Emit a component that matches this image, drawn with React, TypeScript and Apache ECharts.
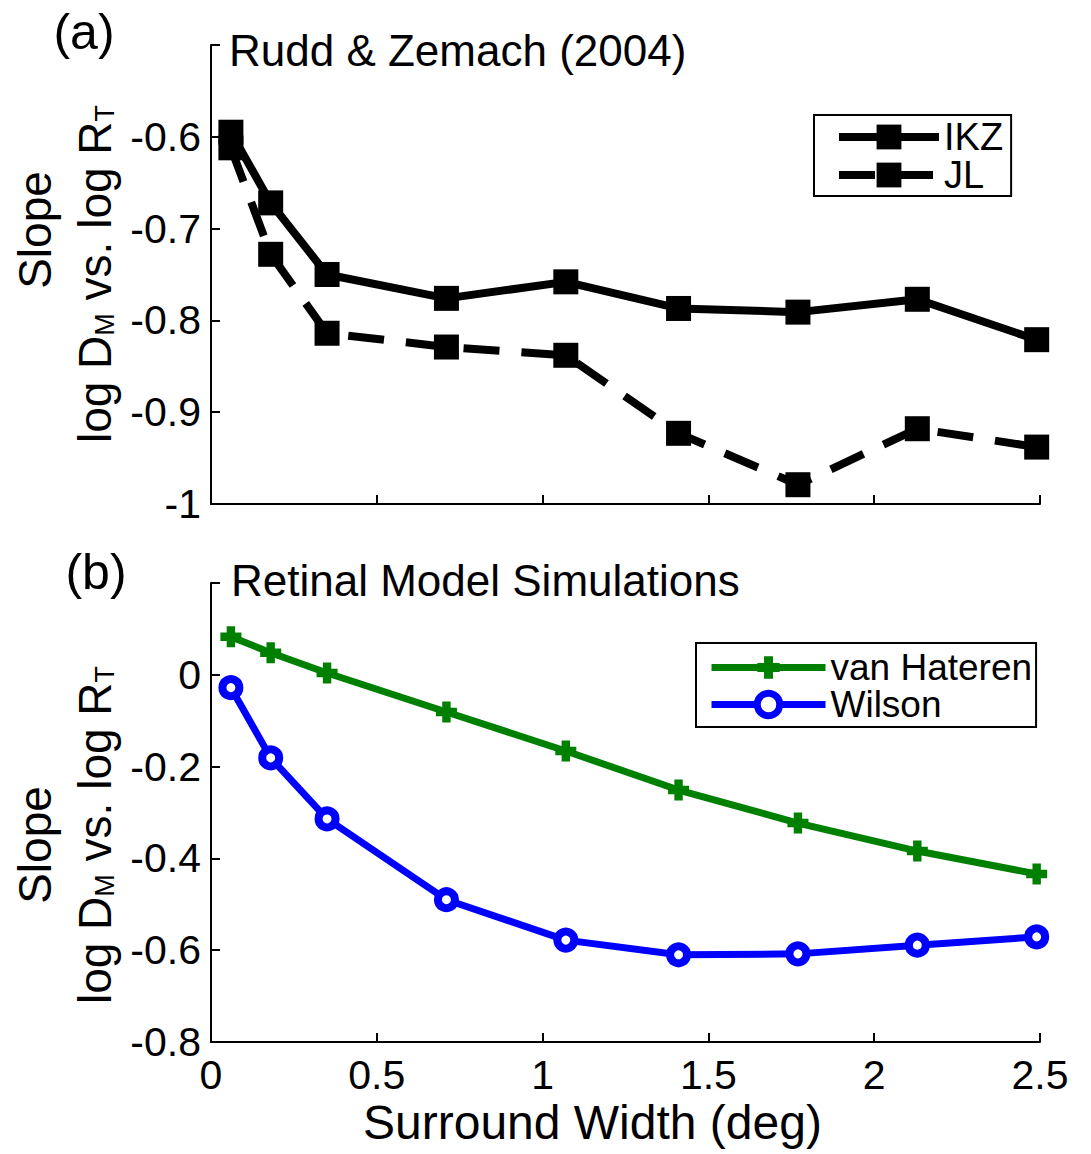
import React, { useEffect, useRef } from "react";
import * as echarts from "echarts";

const FONT = "'Liberation Sans', Arial, Helvetica, sans-serif";

const surroundWidth = [0.06, 0.18, 0.35, 0.71, 1.07, 1.41, 1.77, 2.13, 2.49];
const ikz = [-0.595, -0.672, -0.75, -0.776, -0.758, -0.787, -0.791, -0.777, -0.821];
const jl = [-0.612, -0.728, -0.814, -0.829, -0.838, -0.923, -0.979, -0.918, -0.938];
const vanHateren = [0.083, 0.048, 0.004, -0.081, -0.166, -0.251, -0.323, -0.384, -0.434];
const wilson = [-0.028, -0.181, -0.314, -0.49, -0.578, -0.61, -0.608, -0.589, -0.571];

const seriesNames = ["IKZ", "JL", "van Hateren", "Wilson"];
const panelTitles = ["Rudd & Zemach (2004)", "Retinal Model Simulations"];
const panelTags = ["(a)", "(b)"];
const xLabel = "Surround Width (deg)";

const pairs = (ys: number[]) => surroundWidth.map((x, i) => [x, ys[i]]);

const PLUS = "path://M3,0H7V3H10V7H7V10H3V7H0V3H3Z";
const DASH = [36, 22];

export default function App() {
  const ref = useRef<HTMLDivElement>(null);
  useEffect(() => {
    document.body.style.margin = "0";
    const chart = echarts.init(ref.current!, null, { renderer: "svg" });
    const fmt = (max: number) => (v: number) =>
      Math.abs(v - max) < 1e-9 ? "" : String(Math.round(v * 10) / 10);
    const axisLine = { show: true, onZero: false, lineStyle: { color: "#000", width: 2 } };
    const axisTick = { show: true, inside: true, length: 9, lineStyle: { color: "#000", width: 2 } };
    const lbl = { color: "#000", fontSize: 41, fontFamily: FONT };
    const yLabelText = "{n|log D}{s|M}{n| vs. log R}{s|T}";
    const yRich = {
      n: { fontSize: 46, fontFamily: FONT, color: "#000", lineHeight: 64, verticalAlign: "bottom" },
      s: { fontSize: 27, fontFamily: FONT, color: "#000", lineHeight: 1, verticalAlign: "bottom" },
    };
    const txt = (text: string, x: number, y: number, size: number, align = "left") => ({
      type: "text",
      x,
      y,
      style: {
        text,
        fontSize: size,
        fontFamily: FONT,
        fill: "#000",
        align,
        verticalAlign: "middle",
        textAlign: align,
        textVerticalAlign: "middle",
      },
    });
    const rot = (style: any, x: number, y: number) => ({
      type: "text",
      x,
      y,
      rotation: Math.PI / 2,
      style: {
        ...style,
        fill: "#000",
        fontFamily: FONT,
        align: "center",
        verticalAlign: "middle",
        textAlign: "center",
        textVerticalAlign: "middle",
      },
    });

    chart.setOption({
      animation: false,
      backgroundColor: "#fff",
      grid: [
        { left: 211, top: 45, width: 829, height: 459 },
        { left: 211, top: 583, width: 829, height: 459 },
      ],
      xAxis: [0, 1].map((i) => ({
        type: "value",
        gridIndex: i,
        min: 0,
        max: 2.5,
        interval: 0.5,
        axisLine,
        axisTick,
        splitLine: { show: false },
        axisLabel: i === 0 ? { show: false } : { ...lbl, margin: 12, formatter: fmt(99) },
      })),
      yAxis: [
        {
          type: "value",
          gridIndex: 0,
          min: -1,
          max: -0.5,
          interval: 0.1,
          axisLine,
          axisTick,
          splitLine: { show: false },
          axisLabel: { ...lbl, margin: 10, formatter: fmt(-0.5) },
        },
        {
          type: "value",
          gridIndex: 1,
          min: -0.8,
          max: 0.2,
          interval: 0.2,
          axisLine,
          axisTick,
          splitLine: { show: false },
          axisLabel: { ...lbl, margin: 10, formatter: fmt(0.2) },
        },
      ],
      legend: [
        {
          data: [
            { name: seriesNames[0], lineStyle: { width: 8, color: "#000" } },
            { name: seriesNames[1], lineStyle: { width: 8, color: "#000", type: DASH } },
          ],
          orient: "vertical",
          left: 814,
          top: 115,
          padding: [3, 8, 2, 21],
          itemGap: 0,
          itemWidth: 100,
          itemHeight: 31,
          borderColor: "#000",
          borderWidth: 2,
          backgroundColor: "#fff",
          selectedMode: false,
          textStyle: { color: "#000", fontSize: 38, fontFamily: FONT, lineHeight: 36 },
        },
        {
          data: [
            { name: seriesNames[2], lineStyle: { width: 7, color: "#008000" } },
            {
              name: seriesNames[3],
              lineStyle: { width: 7, color: "#0000ff" },
              itemStyle: { color: "#fff", borderColor: "#0000ff", borderWidth: 7 },
            },
          ],
          orient: "vertical",
          left: 696,
          top: 643,
          padding: [6, 4, 4, 12],
          itemGap: 0,
          itemWidth: 114,
          itemHeight: 28,
          borderColor: "#000",
          borderWidth: 2,
          backgroundColor: "#fff",
          selectedMode: false,
          textStyle: { color: "#000", fontSize: 37, fontFamily: FONT, lineHeight: 37 },
        },
      ],
      series: [
        {
          name: seriesNames[1],
          type: "line",
          xAxisIndex: 0,
          yAxisIndex: 0,
          data: pairs(jl),
          symbol: "rect",
          symbolSize: 25,
          itemStyle: { color: "#000" },
          lineStyle: { color: "#000", width: 8, type: DASH },
        },
        {
          name: seriesNames[0],
          type: "line",
          xAxisIndex: 0,
          yAxisIndex: 0,
          data: pairs(ikz),
          symbol: "rect",
          symbolSize: 25,
          itemStyle: { color: "#000" },
          lineStyle: { color: "#000", width: 8 },
        },
        {
          name: seriesNames[2],
          type: "line",
          xAxisIndex: 1,
          yAxisIndex: 1,
          data: pairs(vanHateren),
          symbol: PLUS,
          symbolSize: 21,
          itemStyle: { color: "#008000" },
          lineStyle: { color: "#008000", width: 7 },
        },
        {
          name: seriesNames[3],
          type: "line",
          xAxisIndex: 1,
          yAxisIndex: 1,
          data: pairs(wilson),
          symbol: "circle",
          symbolSize: 17,
          itemStyle: { color: "#fff", borderColor: "#0000ff", borderWidth: 8 },
          lineStyle: { color: "#0000ff", width: 7 },
        },
      ],
      graphic: [
        txt(panelTags[0], 84, 32, 50, "center"),
        txt(panelTags[1], 96, 572, 50, "center"),
        txt(panelTitles[0], 229, 50, 44),
        txt(panelTitles[1], 231, 580, 44),
        txt(xLabel, 363, 1122, 48),
        rot({ text: "Slope", fontSize: 46 }, 35, 230),
        rot({ text: yLabelText, rich: yRich }, 86, 274),
        rot({ text: "Slope", fontSize: 46 }, 35, 845),
        rot({ text: yLabelText, rich: yRich }, 86, 835),
      ],
    });
    return () => chart.dispose();
  }, []);
  return <div ref={ref} style={{ width: 1091, height: 1154 }} />;
}
